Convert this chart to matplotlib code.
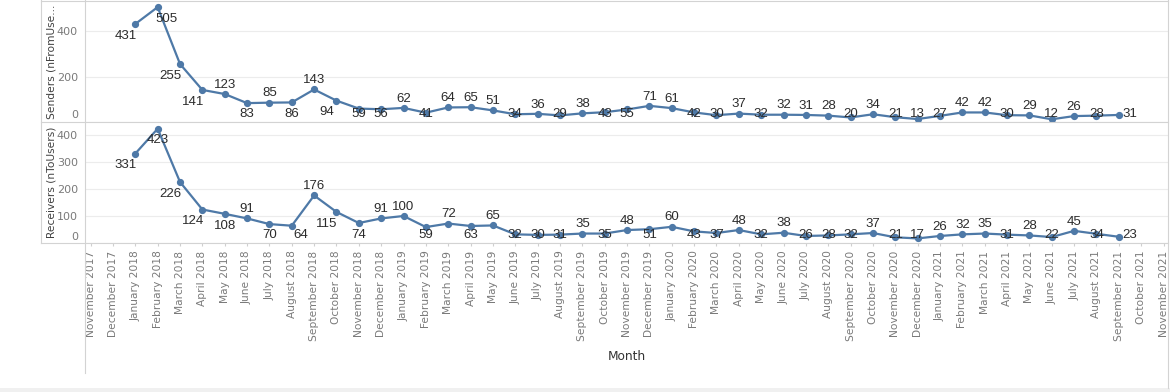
import numpy as np
import pandas as pd
import matplotlib
matplotlib.use("Agg")
import matplotlib.pyplot as plt
from matplotlib.lines import Line2D
from matplotlib.patches import Rectangle
from matplotlib.transforms import ScaledTranslation

# ---------------- data ----------------
month_labels = list(pd.date_range("2017-11-01", "2021-11-01", freq="MS").strftime("%B %Y"))
first_data_month = "January 2018"

senders = [431, 505, 255, 141, 123, 83, 85, 86, 143, 94, 59, 56,
           62, 41, 64, 65, 51, 34, 36, 29, 38, 43, 55, 71,
           61, 42, 30, 37, 32, 32, 31, 28, 20, 34, 21, 13,
           27, 42, 42, 30, 29, 12, 26, 28, 31]
receivers = [331, 423, 226, 124, 108, 91, 70, 64, 176, 115, 74, 91,
             100, 59, 72, 63, 65, 32, 30, 31, 35, 35, 48, 51,
             60, 43, 37, 48, 32, 38, 26, 28, 32, 37, 21, 17,
             26, 32, 35, 31, 28, 22, 45, 34, 23]

sender_yticks = [0, 200, 400]
receiver_yticks = [0, 100, 200, 300, 400]

# label placement codes (a=above, b=below, bl/br=below left/right, r=right)
sender_lab = ["bl", "br", "bl", "bl", "a", "b", "a", "b", "a", "bl", "b", "b",
              "a", "b", "a", "a", "a", "b", "a", "b", "a", "b", "b", "a",
              "a", "b", "b", "a", "b", "a", "a", "a", "b", "a", "b", "b",
              "b", "a", "a", "b", "a", "b", "a", "b", "r"]
receiver_lab = ["bl", "b", "bl", "bl", "b", "a", "b", "br", "a", "bl", "b", "a",
                "a", "b", "a", "b", "a", "b", "b", "b", "a", "b", "a", "b",
                "a", "b", "b", "a", "b", "a", "b", "b", "b", "a", "b", "b",
                "a", "a", "a", "b", "a", "b", "a", "b", "r"]

# ---------------- figure ----------------
W, H = 1170, 392
fig = plt.figure(figsize=(W / 100, H / 100), dpi=100)
fig.patch.set_facecolor("white")

def fx(px):
    return px / W

def fy(py):
    return 1 - py / H

LEFT, RIGHT = 85, 1168
ax1 = fig.add_axes([fx(LEFT), fy(122), fx(RIGHT - LEFT), 121 / H])
ax2 = fig.add_axes([fx(LEFT), fy(243), fx(RIGHT - LEFT), 121 / H])

LINE_C = "#4e79a7"
TXT_C = "#2b2b2b"
TICK_C = "#7a7a7a"
BORDER_C = "#d3d3d3"

start = month_labels.index(first_data_month)
xpos = np.arange(len(month_labels))
xdata = xpos[start:start + len(senders)]

panels = [
    (ax1, senders, sender_lab, sender_yticks, 532, "Senders (nFromUse...", 8.5),
    (ax2, receivers, receiver_lab, receiver_yticks, 448, "Receivers (nToUsers)", 7.5),
]

AX_H_PX = 121
for ax, vals, codes, yt, ymax, ylabel, zshift in panels:
    ax.set_xlim(-0.25, len(month_labels) - 1 + 0.2)
    ax.set_ylim(0, ymax)
    for s in ax.spines.values():
        s.set_visible(False)
    ax.set_yticks(yt)
    ax.set_yticklabels([str(v) for v in yt])
    ax.tick_params(axis="y", length=0, pad=5, labelsize=8, labelcolor=TICK_C)
    for lab in ax.get_yticklabels():
        lab.set_fontfamily("DejaVu Sans")
    ax.yaxis.grid(True, color="#ececec", lw=0.8)
    ax.set_axisbelow(True)
    z = ax.yaxis.get_major_ticks()[0].label1
    z.set_va("center_baseline")
    z.set_transform(z.get_transform() +
                    ScaledTranslation(0, zshift / 100, fig.dpi_scale_trans))

    ax.plot(xdata, vals, color=LINE_C, lw=1.6, marker="o", ms=4.2,
            clip_on=False, zorder=3)

    ppu = AX_H_PX / ymax
    for x, v, c in zip(xdata, vals, codes):
        ypx = v * ppu
        dx = 0.0
        ha = "center"
        if c == "a":
            yl = ypx + 11
        elif c.startswith("b"):
            yl = ypx - 10
            if c == "bl":
                dx = -0.42
            elif c == "br":
                dx = 0.38
        else:  # right
            yl = ypx
            dx = 0.15
            ha = "left"
        yl = min(max(yl, 9.5), AX_H_PX - 11)
        ybase = (yl - 4.7) / ppu
        ax.text(x + dx, ybase, str(v), ha=ha, va="baseline", fontsize=9.5,
                family="Liberation Sans", color=TXT_C, zorder=4)

    ax.set_ylabel(ylabel, fontsize=7.7, color="#404040", family="DejaVu Sans",
                  va="center")
    ax.yaxis.set_label_coords((51.5 - LEFT) / (RIGHT - LEFT), 0.5)

ax1.set_xticks([])
ax2.set_xticks(xpos)
ax2.set_xticklabels(month_labels, rotation=90, fontsize=7.7, color=TICK_C,
                    family="DejaVu Sans", va="top")
ax2.tick_params(axis="x", length=2.4, width=0.8, color="#cfcfcf", pad=3)

fig.text(fx((LEFT + RIGHT) / 2), fy(357), "Month", ha="center", va="center",
         fontsize=8.7, color="#333333", family="DejaVu Sans")

# frame lines
def hline(py, x0, x1):
    fig.add_artist(Line2D([fx(x0), fx(x1)], [fy(py), fy(py)], color=BORDER_C,
                          lw=0.8, transform=fig.transFigure))

def vline(px, y0, y1):
    fig.add_artist(Line2D([fx(px), fx(px)], [fy(y0), fy(y1)], color=BORDER_C,
                          lw=0.8, transform=fig.transFigure))

hline(0.8, 41, RIGHT)
hline(122, 41, RIGHT)
hline(243, 41, RIGHT)
vline(41, 0, 243)
vline(LEFT, 0, 373)
vline(RIGHT, 0, 388)

fig.add_artist(Rectangle((0, 0), 1, 4 / H, transform=fig.transFigure,
                         facecolor="#f0f0f0", edgecolor="none"))

fig.savefig("out.png", dpi=100, facecolor="white")
